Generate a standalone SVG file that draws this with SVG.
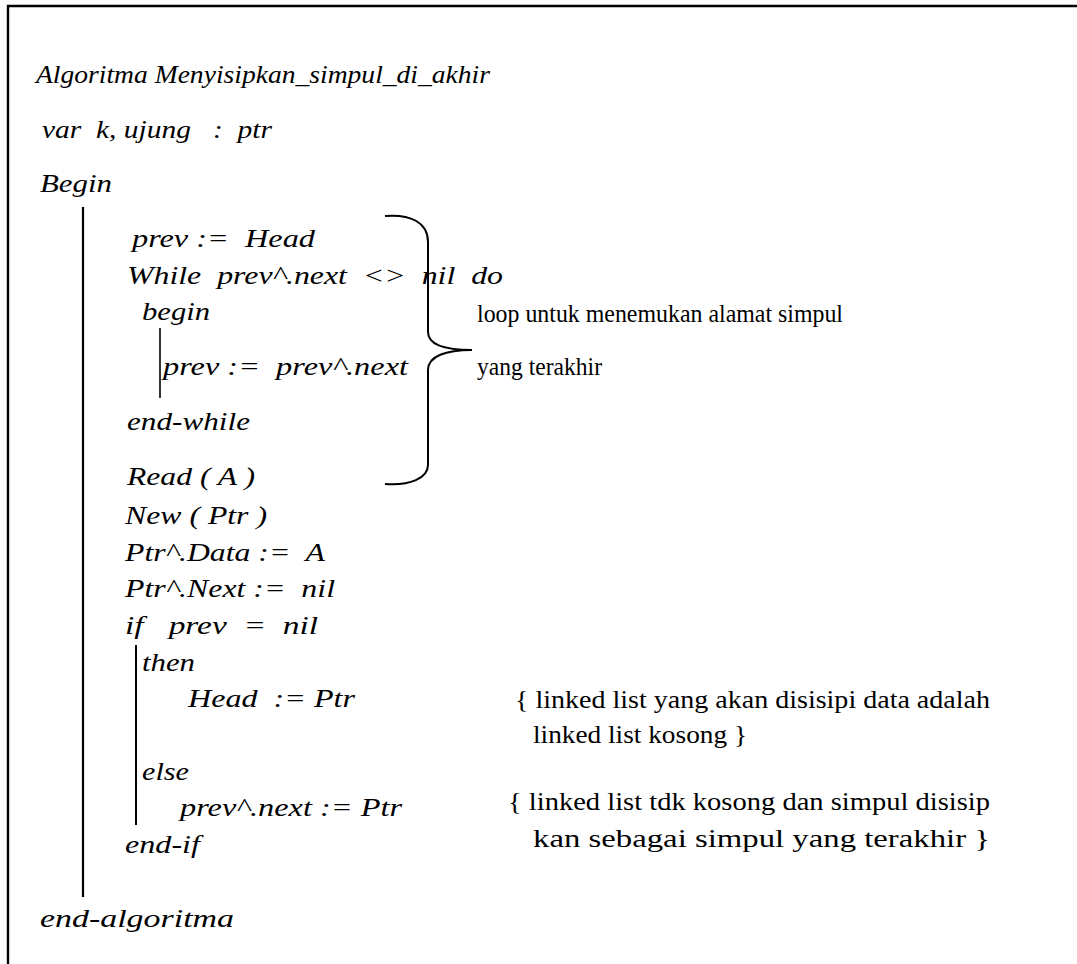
<svg xmlns="http://www.w3.org/2000/svg" width="1077" height="964" viewBox="0 0 1077 964">
  <defs>
    <style>
      .rule { stroke: #000; fill: none; stroke-linecap: butt; }
      .code { font-family: "Liberation Serif", "Times New Roman", serif; font-style: italic; font-size: 25px; fill: #000; white-space: pre; }
      .note { font-family: "Liberation Serif", "Times New Roman", serif; font-size: 26px; fill: #000; white-space: pre; }
    </style>
  </defs>
  <rect width="1077" height="964" fill="#fff"/>

  <!-- outer frame (open to the right and bottom) -->
  <path class="rule" d="M8,964 V6 H1077" stroke-width="2.4"/>

  <!-- block rules -->
  <g id="block-rules">
    <line class="rule" x1="83" y1="207" x2="83" y2="897" stroke-width="2.2"/>
    <line class="rule" x1="160" y1="328" x2="160" y2="398" stroke-width="1.6"/>
    <line class="rule" x1="136" y1="645" x2="136" y2="825" stroke-width="2"/>
  </g>

  <g id="header">
    <text class="code" x="36" y="83" textLength="454" lengthAdjust="spacingAndGlyphs">Algoritma Menyisipkan_simpul_di_akhir</text>
    <text class="code" x="42" y="138" textLength="230" lengthAdjust="spacingAndGlyphs">var  k, ujung   :  ptr</text>
    <text class="code" x="40" y="192" textLength="72" lengthAdjust="spacingAndGlyphs">Begin</text>
  </g>
  <g id="loop">
    <text class="code" x="132" y="247" textLength="183" lengthAdjust="spacingAndGlyphs">prev :=  Head</text>
    <text class="code" x="127" y="284" textLength="376" lengthAdjust="spacingAndGlyphs">While  prev^.next  &lt;&gt;  nil  do</text>
    <text class="code" x="142" y="320" textLength="68" lengthAdjust="spacingAndGlyphs">begin</text>
    <text class="code" x="163" y="375" textLength="245" lengthAdjust="spacingAndGlyphs">prev :=  prev^.next</text>
    <text class="code" x="127" y="430" textLength="123" lengthAdjust="spacingAndGlyphs">end-while</text>
    <text class="code" x="127" y="485" textLength="128" lengthAdjust="spacingAndGlyphs">Read ( A )</text>
  </g>
  <g id="create">
    <text class="code" x="125" y="524" textLength="142" lengthAdjust="spacingAndGlyphs">New ( Ptr )</text>
    <text class="code" x="125" y="561" textLength="200" lengthAdjust="spacingAndGlyphs">Ptr^.Data :=  A</text>
    <text class="code" x="125" y="597" textLength="210" lengthAdjust="spacingAndGlyphs">Ptr^.Next :=  nil</text>
  </g>
  <g id="branch">
    <text class="code" x="125" y="634" textLength="193" lengthAdjust="spacingAndGlyphs">if   prev  =  nil</text>
    <text class="code" x="142" y="671" textLength="53" lengthAdjust="spacingAndGlyphs">then</text>
    <text class="code" x="188" y="707" textLength="167" lengthAdjust="spacingAndGlyphs">Head  := Ptr</text>
    <text class="code" x="142" y="780" textLength="47" lengthAdjust="spacingAndGlyphs">else</text>
    <text class="code" x="180" y="816" textLength="222" lengthAdjust="spacingAndGlyphs">prev^.next := Ptr</text>
    <text class="code" x="125" y="853" textLength="75" lengthAdjust="spacingAndGlyphs">end-if</text>
  </g>
  <g id="footer">
    <text class="code" x="40" y="927" textLength="194" lengthAdjust="spacingAndGlyphs">end-algoritma</text>
  </g>

  <!-- brace grouping the loop -->
  <g id="loop-brace">
    <path class="rule" stroke-width="2" d="M385,216 C410,214 428,222 428,242 V332 C428,345 446,350 472,350 C446,350 428,356 428,370 V465 C428,478 410,486 385,484"/>
  </g>

  <g id="loop-note">
    <text class="note" x="477" y="322" textLength="366" lengthAdjust="spacingAndGlyphs">loop untuk menemukan alamat simpul</text>
    <text class="note" x="477" y="375" textLength="125" lengthAdjust="spacingAndGlyphs">yang terakhir</text>
  </g>
  <g id="branch-notes">
    <text class="note" x="515" y="708" textLength="475" lengthAdjust="spacingAndGlyphs">{ linked list yang akan disisipi data adalah</text>
    <text class="note" x="533" y="743" textLength="214" lengthAdjust="spacingAndGlyphs">linked list kosong }</text>
    <text class="note" x="508" y="810" textLength="482" lengthAdjust="spacingAndGlyphs">{ linked list tdk kosong dan simpul disisip</text>
    <text class="note" x="533" y="847" textLength="457" lengthAdjust="spacingAndGlyphs">kan sebagai simpul yang terakhir }</text>
  </g>
</svg>
